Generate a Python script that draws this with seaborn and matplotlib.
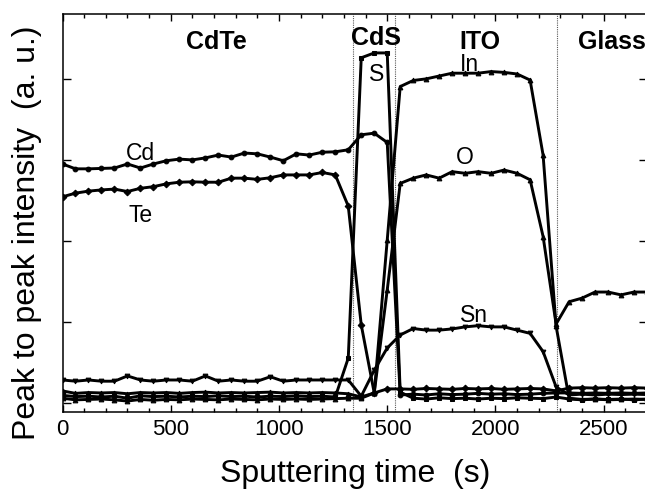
import pandas as pd
import matplotlib
matplotlib.use("Agg")
import matplotlib.pyplot as plt
import seaborn as sns
from matplotlib.ticker import MultipleLocator, NullFormatter

# sputtering time of each AES scan (s)
time_s = [0, 60, 120, 180, 240, 300, 360, 420, 480, 540, 600, 660, 720, 780,
          840, 900, 960, 1020, 1080, 1140, 1200, 1260, 1320, 1380, 1440, 1500,
          1560, 1620, 1680, 1740, 1800, 1860, 1920, 1980, 2040, 2100, 2160,
          2220, 2280, 2340, 2400, 2460, 2520, 2580, 2640, 2700]

# peak to peak intensity (a. u.) read from the profile
cd = [59.0, 57.8, 57.8, 57.9, 58.0, 59.0, 58.0, 59.0, 59.8, 60.2, 60.0, 60.5,
      61.2, 60.7, 61.7, 61.5, 60.7, 59.8, 61.5, 61.2, 61.9, 62.0, 62.5, 66.2,
      66.6, 64.3, 2.0, 2.2, 2.0, 2.3, 2.1, 2.2, 2.4, 2.2, 2.3, 2.1, 2.2, 2.4,
      2.5, 2.5, 2.4, 2.5, 2.4, 2.5, 2.4, 2.5]
te = [50.9, 51.8, 52.3, 52.6, 52.8, 52.2, 53.0, 53.4, 54.1, 54.5, 54.6, 54.5,
      54.5, 55.5, 55.5, 55.2, 55.6, 56.3, 56.3, 56.3, 56.9, 56.3, 48.6, 19.3,
      2.5, 3.5, 3.5, 3.4, 3.6, 3.5, 3.4, 3.6, 3.5, 3.6, 3.4, 3.5, 3.6, 3.5,
      3.0, 3.7, 3.8, 3.7, 3.8, 3.7, 3.8, 3.7]
s = [1.9, 1.6, 1.7, 1.5, 1.7, 1.2, 1.8, 1.6, 1.7, 1.5, 1.7, 1.6, 1.8, 1.6,
     1.7, 1.5, 1.7, 1.6, 1.8, 1.6, 1.7, 1.5, 11.1, 85.2, 86.4, 86.4, 2.7, 1.2,
     1.0, 1.3, 1.1, 1.2, 1.0, 1.2, 1.1, 1.3, 1.2, 1.1, 1.5, 1.0, 0.8, 1.0,
     0.9, 1.0, 0.8, 1.0]
in_ = [1.2, 0.8, 0.9, 1.0, 0.8, 0.5, 0.9, 0.7, 0.9, 0.8, 1.0, 0.9, 0.8, 1.0,
       0.9, 0.8, 1.0, 0.9, 1.0, 0.9, 1.0, 1.1, 1.2, 1.2, 2.5, 40.2, 78.1, 79.6,
       80.0, 80.7, 81.4, 81.4, 81.4, 81.8, 81.6, 81.2, 79.7, 61.2, 19.0, 1.2,
       0.9, 1.0, 0.8, 0.9, 1.0, 0.9]
o = [3.0, 2.4, 2.6, 2.5, 2.6, 2.3, 2.6, 2.5, 2.6, 2.4, 2.6, 2.7, 2.5, 2.6,
     2.5, 2.6, 2.7, 2.5, 2.6, 2.5, 2.6, 2.5, 2.3, 1.5, 2.5, 27.9, 54.2, 55.5,
     56.3, 55.5, 57.1, 56.7, 57.1, 56.7, 57.5, 56.7, 55.1, 41.1, 19.5, 25.0,
     25.9, 27.4, 27.4, 26.7, 27.4, 27.4]
sn = [5.7, 5.4, 5.7, 5.4, 5.4, 6.7, 5.7, 5.4, 5.7, 5.7, 5.4, 6.7, 5.4, 5.7,
      5.4, 5.4, 6.5, 5.4, 5.7, 5.7, 5.7, 5.7, 5.7, 1.7, 8.1, 13.6, 16.8, 18.4,
      18.0, 18.0, 18.3, 18.8, 19.1, 18.8, 18.8, 18.0, 17.2, 12.7, 4.0, 2.0,
      2.2, 2.0, 2.2, 2.1, 2.2, 2.1]

# layer boundaries (s) and layer names
boundaries = [1343, 1536, 2284]
layers = ["CdTe", "CdS", "ITO", "Glass"]
layer_x = [710, 1450, 1930, 2540]


def main():
    series = {"Cd": cd, "Te": te, "S": s, "In": in_, "O": o, "Sn": sn}
    frames = []
    for name, vals in series.items():
        frames.append(pd.DataFrame({"time": time_s, "intensity": vals, "element": name}))
    df = pd.concat(frames, ignore_index=True)

    sns.set_style("ticks")
    plt.rcParams["font.family"] = ["Liberation Sans", "DejaVu Sans"]
    plt.rcParams["text.color"] = "black"
    plt.rcParams["axes.labelcolor"] = "black"
    plt.rcParams["xtick.color"] = "black"
    plt.rcParams["ytick.color"] = "black"

    fig = plt.figure(figsize=(6.45, 4.92), dpi=100)
    ax = fig.add_axes([0.0969, 0.1626, 0.9062, 0.8089])

    markers = {"Cd": "o", "Te": "D", "S": "s", "In": "^", "O": "^", "Sn": "v"}
    palette = {k: "black" for k in series}
    sns.lineplot(data=df, x="time", y="intensity", hue="element", style="element",
                 markers=markers, dashes=False, palette=palette, sort=False,
                 linewidth=2.1, markersize=3.4, markeredgecolor="black",
                 legend=False, ax=ax)

    for b in boundaries:
        ax.axvline(b, color="0.35", lw=0.8, ls=(0, (1, 1)), zorder=1)

    ax.set_xlim(0, 2700)
    ax.set_ylim(-2.2, 96)
    ax.xaxis.set_major_locator(MultipleLocator(500))
    ax.xaxis.set_minor_locator(MultipleLocator(100))
    ax.yaxis.set_major_locator(MultipleLocator(20))
    ax.yaxis.set_major_formatter(NullFormatter())
    ax.tick_params(axis="both", which="both", direction="in", top=True, right=True,
                   width=1.0, colors="black")
    ax.tick_params(axis="x", which="major", length=5, labelsize=16, pad=5)
    ax.tick_params(axis="x", which="minor", length=3)
    ax.tick_params(axis="y", which="major", length=5.5)
    for sp in ax.spines.values():
        sp.set_linewidth(1.1)
        sp.set_color("black")

    ax.set_xlabel("Sputtering time  (s)", fontsize=23, color="black")
    ax.set_ylabel("Peak to peak intensity  (a. u.)", fontsize=23, color="black")
    ax.xaxis.set_label_coords(0.5, -0.118)
    ax.yaxis.set_label_coords(-0.035, 0.45)

    for name, xpos in zip(layers, layer_x):
        yy = 90.0 if name == "CdS" else 89.0
        ax.text(xpos, yy, name, fontsize=18, fontweight="bold", ha="center",
                va="center", color="black")

    labels = {"Cd": (360, 61.6), "Te": (360, 46.4), "S": (1450, 81.0),
              "In": (1880, 83.6), "O": (1860, 60.5), "Sn": (1900, 21.7)}
    for name, (lx, ly) in labels.items():
        ax.text(lx, ly, name, fontsize=16.5, ha="center", va="center", color="black")

    fig.savefig("out.png", dpi=100)
    plt.close(fig)


if __name__ == "__main__":
    main()
